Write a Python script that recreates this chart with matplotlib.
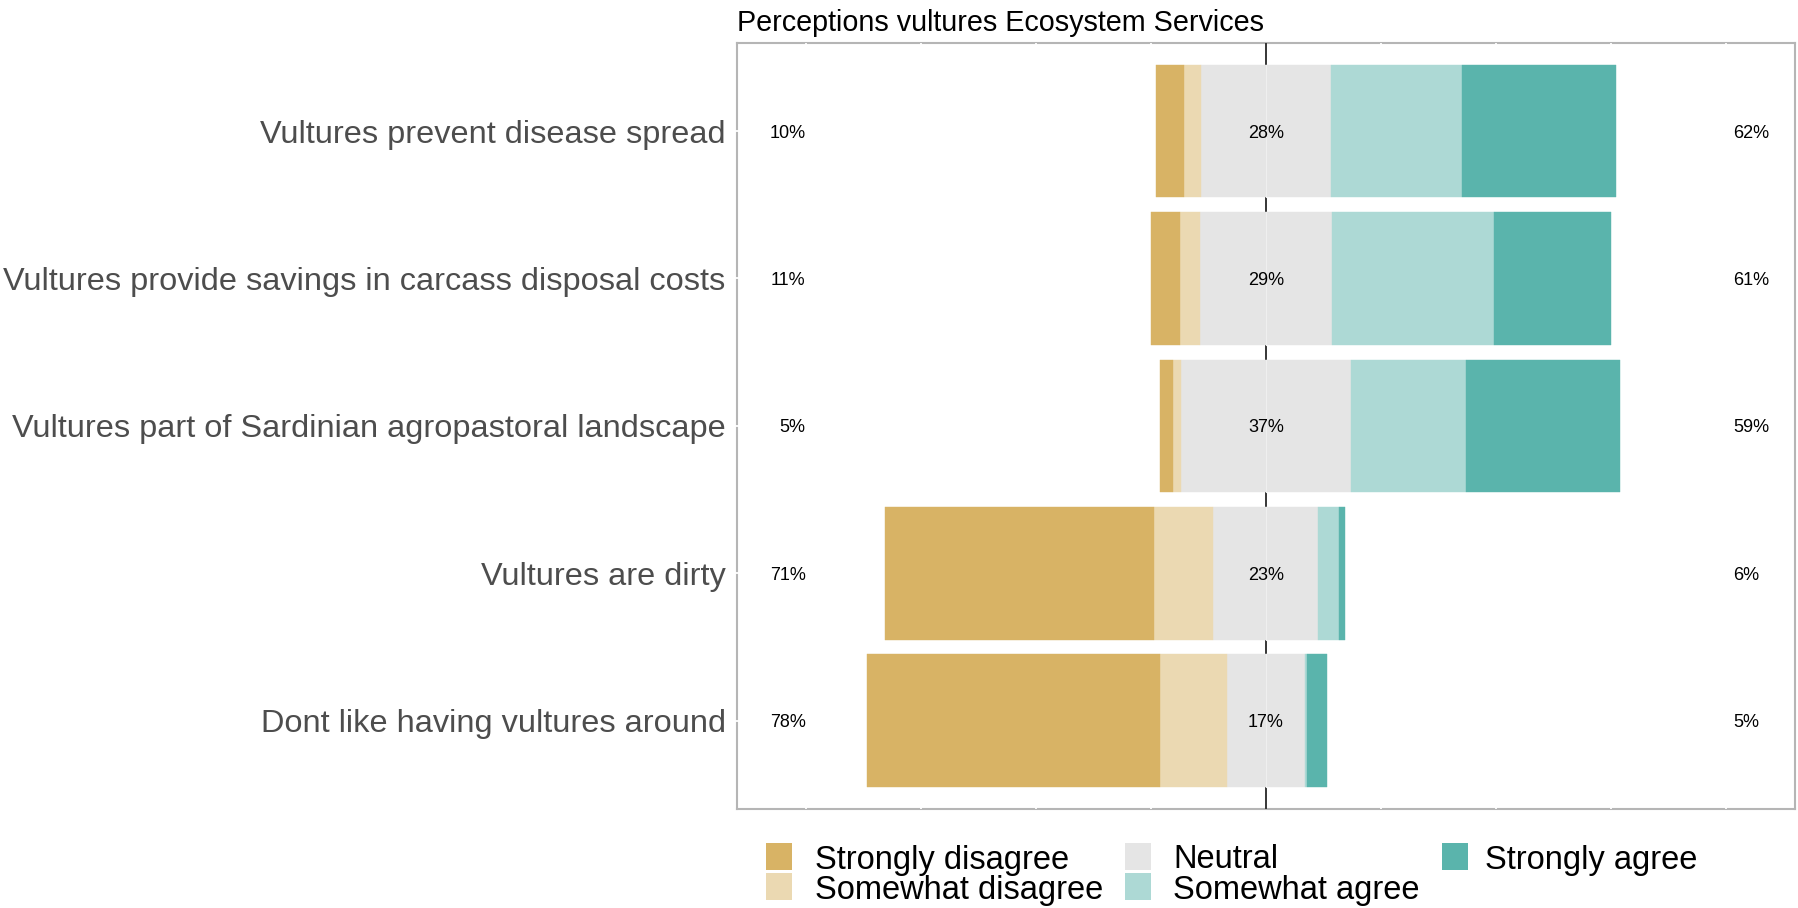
import matplotlib
matplotlib.use('Agg')
import matplotlib.pyplot as plt
from matplotlib.patches import Rectangle
import numpy as np

plt.rcParams['font.family'] = ['Liberation Sans', 'DejaVu Sans']

# ---------------- data ----------------
items = ["Vultures prevent disease spread",
         "Vultures provide savings in carcass disposal costs",
         "Vultures part of Sardinian agropastoral landscape",
         "Vultures are dirty",
         "Dont like having vultures around"]
levels = ["Strongly disagree", "Somewhat disagree", "Neutral",
          "Somewhat agree", "Strongly agree"]
strongly_disagree = [6.0, 6.3, 2.9, 58.4, 63.6]
somewhat_disagree = [3.7, 4.4, 1.7, 12.9, 14.7]
neutral = [28.2, 28.7, 36.8, 22.8, 16.8]
somewhat_agree = [28.5, 35.3, 25.0, 4.5, 0.6]
strongly_agree = [33.6, 25.3, 33.6, 1.4, 4.3]
title = "Perceptions vultures Ecosystem Services"

colors = ['#D8B365', '#EBD9B2', '#E5E5E5', '#ADD9D5', '#5AB4AC']

# ---------------- figure ----------------
W, H = 1799, 908
fig = plt.figure(figsize=(W / 100, H / 100), dpi=100)
p_left, p_right, p_top, p_bottom = 736.7, 1795.0, 42.7, 809.0
ax = fig.add_axes([p_left / W, 1 - p_bottom / H,
                   (p_right - p_left) / W, (p_bottom - p_top) / H])
ax.set_xlim(-115, 115)
ax.set_ylim(5.6, 0.4)

sd = np.array(strongly_disagree)
swd = np.array(somewhat_disagree)
neu = np.array(neutral)
swa = np.array(somewhat_agree)
sa = np.array(strongly_agree)
half = neu / 2
y = np.arange(1, len(items) + 1)
bh = 0.9
kw = dict(height=bh, zorder=2, linewidth=0.3)

ax.barh(y, half, left=-half, color=colors[2], edgecolor=colors[2], **kw)
ax.barh(y, half, left=0, color=colors[2], edgecolor=colors[2], **kw)
ax.barh(y, swd, left=-half - swd, color=colors[1], edgecolor=colors[1], **kw)
ax.barh(y, sd, left=-half - swd - sd, color=colors[0], edgecolor=colors[0], **kw)
ax.barh(y, swa, left=half, color=colors[3], edgecolor=colors[3], **kw)
ax.barh(y, sa, left=half + swa, color=colors[4], edgecolor=colors[4], **kw)

# faint seam between neutral halves
for yi in y:
    ax.plot([0, 0], [yi - bh / 2, yi + bh / 2], color='#EFEFEF', lw=0.8, zorder=2.1)

# zero line
ax.axvline(0, color='black', lw=1.1, zorder=1.8)

# labels
neg = sd + swd
pos = sa + swa
for yi, n, m, p in zip(y, neg, neu, pos):
    ax.text(-100, yi, f"{n:.0f}%", ha='right', va='center_baseline', fontsize=13, zorder=3)
    ax.text(0, yi, f"{m:.0f}%", ha='center', va='center_baseline', fontsize=13, zorder=3)
    ax.text(101.5, yi, f"{p:.0f}%", ha='left', va='center_baseline', fontsize=13, zorder=3)

# axes styling
ax.set_xticks(np.arange(-100, 101, 25))
ax.grid(axis='x', color='white', lw=1.3)
ax.tick_params(axis='x', length=0, labelbottom=False)
ax.set_yticks(y)
ax.set_yticklabels(items, fontsize=23.4, color='#4D4D4D')
ax.tick_params(axis='y', direction='inout', length=5, width=1.3, color='white', pad=5.4)
for s in ax.spines.values():
    s.set_color('#B5B5B5')
    s.set_linewidth(1.5)
    s.set_zorder(0.5)

# title
fig.text(p_left / W, 1 - 31 / H, title, fontsize=20.7, ha='left', va='baseline')

# legend (3 columns, filled by column)
key_x = [766, 1125, 1441.5]
text_x = [815, 1173.5, 1485]
key_y = [(843, 870), (873, 900)]
for i, (lab, col) in enumerate(zip(levels, colors)):
    c, r = divmod(i, 2)
    y0, y1 = key_y[r]
    fig.add_artist(Rectangle((key_x[c] / W, 1 - y1 / H), 26.5 / W, (y1 - y0) / H,
                             transform=fig.transFigure, facecolor=col, edgecolor='none'))
    fig.text(text_x[c] / W, 1 - (y0 + y1) / 2 / H, lab, fontsize=23.5,
             ha='left', va='center_baseline')

fig.savefig('out.png', dpi=100)
